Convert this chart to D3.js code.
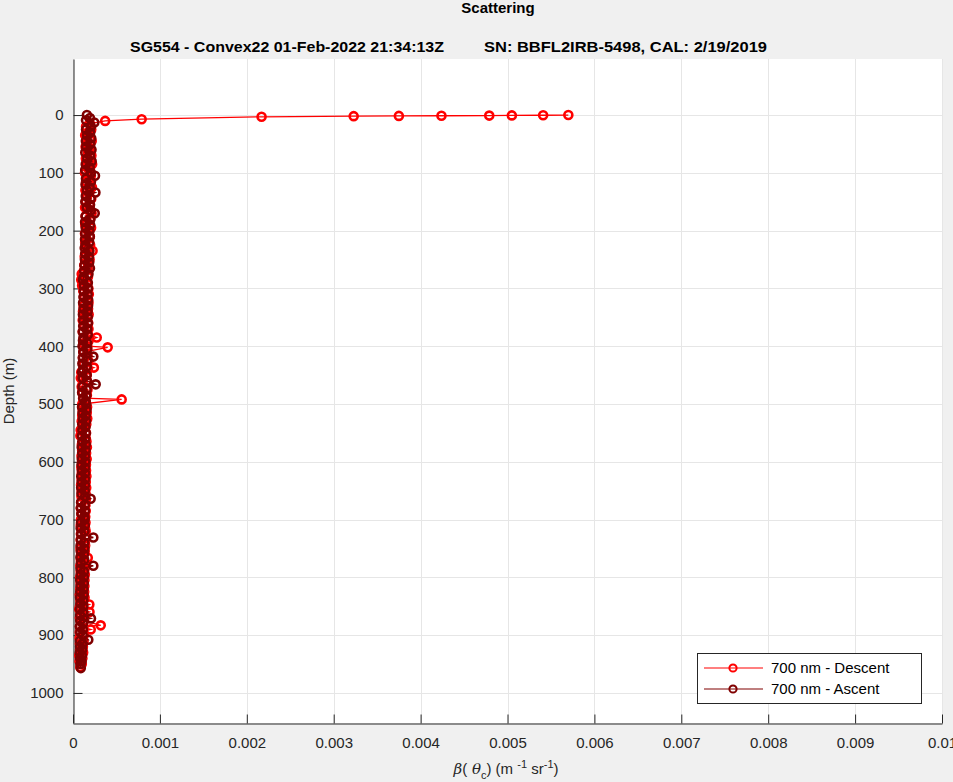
<!DOCTYPE html>
<html>
<head>
<meta charset="utf-8">
<script src="https://cdn.jsdelivr.net/npm/d3@7"></script>
<style>
  body { margin: 0; background: #f0f0f0; }
  svg { display: block; font-family: "Liberation Sans", Arial, Helvetica, sans-serif; }
</style>
</head>
<body>
<svg id="chart" width="953" height="782"></svg>
<script>
// ---------------- data ----------------
const titleText = "Scattering";
const subtitleLeft = "SG554 - Convex22 01-Feb-2022 21:34:13Z";
const subtitleRight = "SN: BBFL2IRB-5498, CAL: 2/19/2019";
const seriesNames = ["700 nm - Descent", "700 nm - Ascent"];

const xTicks = [0, 0.001, 0.002, 0.003, 0.004, 0.005, 0.006, 0.007, 0.008, 0.009, 0.01];
const xTickLabels = ["0", "0.001", "0.002", "0.003", "0.004", "0.005", "0.006", "0.007", "0.008", "0.009", "0.01"];
const yTicks = [0, 100, 200, 300, 400, 500, 600, 700, 800, 900, 1000];
const yTickLabels = ["0", "100", "200", "300", "400", "500", "600", "700", "800", "900", "1000"];

// Descent (m)
const descentDepth = [0, 0.3, 0.6, 0.9, 1.2, 1.5, 1.9, 3.0, 7.2, 10.1,
  15, 20, 25, 30, 35, 40, 45, 50, 55, 60,
  65, 70, 75, 80, 85, 90, 95, 100, 105, 110,
  115, 120, 125, 130, 135, 140, 145, 150, 155, 160,
  165, 170, 175, 180, 185, 190, 195, 200, 205, 210,
  215, 220, 225, 230, 235, 240, 245, 250, 255, 260,
  265, 270, 275, 280, 285, 290, 295, 300, 305, 310,
  315, 320, 325, 330, 335, 340, 345, 350, 355, 360,
  365, 370, 375, 380, 385, 390, 395, 400, 402, 410,
  415, 420, 425, 430, 437, 440, 445, 450, 455, 460,
  465, 470, 475, 480, 485, 490, 492, 500, 505, 510,
  515, 520, 525, 530, 535, 540, 545, 550, 555, 560,
  565, 570, 575, 580, 585, 590, 595, 600, 605, 610,
  615, 620, 625, 630, 635, 640, 645, 650, 655, 660,
  665, 670, 675, 680, 685, 690, 695, 700, 705, 710,
  715, 720, 725, 730, 735, 740, 745, 750, 755, 760,
  766, 770, 775, 780, 785, 790, 795, 800, 805, 810,
  815, 820, 825, 830, 835, 840, 847, 850, 855, 860,
  865, 870, 875, 883, 885, 890, 895, 900, 905, 910,
  915, 920, 925, 930, 935, 940, 945, 950, 955];
const descentBeta = [0.00570, 0.00541, 0.00505, 0.00479, 0.00424, 0.00375, 0.00323, 0.00217, 0.00079, 0.00037,
  0.000195, 0.000150, 0.000210, 0.000172, 0.000140, 0.000200, 0.000215, 0.000160, 0.000145, 0.000190,
  0.000171, 0.000212, 0.000148, 0.000185, 0.000220, 0.000155, 0.000195, 0.000138, 0.000205, 0.000173,
  0.000150, 0.000199, 0.000218, 0.000143, 0.000185, 0.000160, 0.000210, 0.000147, 0.000193, 0.000139,
  0.000182, 0.000214, 0.000145, 0.000196, 0.000159, 0.000141, 0.000208, 0.000171, 0.000138, 0.000194,
  0.000156, 0.000140, 0.000197, 0.000169, 0.000225, 0.000143, 0.000135, 0.000191, 0.000167, 0.000130,
  0.000168, 0.000125, 0.000100, 0.000172, 0.000095, 0.000158, 0.000105, 0.000177, 0.000119, 0.000182,
  0.000130, 0.000166, 0.000178, 0.000121, 0.000173, 0.000115, 0.000180, 0.000127, 0.000112, 0.000175,
  0.000129, 0.000178, 0.000113, 0.000172, 0.000273, 0.000180, 0.000118, 0.000165, 0.000399, 0.000120,
  0.000166, 0.000115, 0.000175, 0.000122, 0.000240, 0.000170, 0.000095, 0.000158, 0.000090, 0.000161,
  0.000113, 0.000100, 0.000167, 0.000109, 0.000160, 0.000116, 0.000560, 0.000107, 0.000162, 0.000111,
  0.000158, 0.000106, 0.000164, 0.000100, 0.000153, 0.000119, 0.000088, 0.000150, 0.000085, 0.000148,
  0.000155, 0.000102, 0.000160, 0.000105, 0.000151, 0.000098, 0.000157, 0.000104, 0.000149, 0.000096,
  0.000150, 0.000101, 0.000154, 0.000099, 0.000147, 0.000093, 0.000152, 0.000100, 0.000145, 0.000097,
  0.000148, 0.000095, 0.000143, 0.000090, 0.000146, 0.000098, 0.000141, 0.000092, 0.000144, 0.000089,
  0.000139, 0.000146, 0.000091, 0.000142, 0.000088, 0.000137, 0.000140, 0.000086, 0.000135, 0.000093,
  0.000170, 0.000090, 0.000138, 0.000084, 0.000134, 0.000089, 0.000136, 0.000082, 0.000132, 0.000087,
  0.000131, 0.000083, 0.000129, 0.000078, 0.000133, 0.000085, 0.000188, 0.000080, 0.000072, 0.000190,
  0.000124, 0.000079, 0.000127, 0.000319, 0.000081, 0.000204, 0.000078, 0.000125, 0.000076, 0.000122,
  0.000079, 0.000114, 0.000081, 0.000117, 0.000072, 0.000108, 0.000075, 0.000101, 0.000083];

// Ascent (m)
const ascentDepth = [0, 5, 9, 13, 20, 25, 30, 35, 40, 45,
  50, 55, 60, 65, 70, 75, 80, 85, 90, 95,
  100, 105, 110, 115, 120, 125, 130, 134, 140, 145,
  150, 155, 160, 165, 170, 175, 180, 185, 190, 195,
  200, 205, 210, 215, 220, 225, 230, 235, 240, 245,
  250, 255, 260, 265, 270, 275, 280, 285, 290, 295,
  300, 305, 310, 315, 320, 325, 330, 335, 340, 345,
  350, 355, 360, 365, 370, 375, 380, 385, 390, 395,
  400, 405, 410, 418, 420, 425, 430, 435, 440, 445,
  450, 455, 460, 466, 470, 475, 480, 485, 490, 495,
  500, 505, 510, 515, 520, 525, 530, 535, 540, 545,
  550, 555, 560, 565, 570, 575, 580, 585, 590, 595,
  600, 605, 610, 615, 620, 625, 630, 635, 640, 645,
  650, 655, 660, 664, 670, 675, 680, 685, 690, 695,
  700, 705, 710, 715, 720, 725, 731, 735, 740, 745,
  750, 755, 760, 765, 770, 775, 780, 785, 790, 795,
  800, 805, 810, 815, 820, 825, 830, 835, 840, 845,
  850, 855, 860, 865, 871, 875, 880, 885, 890, 895,
  900, 908, 910, 915, 920, 925, 930, 935, 940, 945,
  950, 957];
const ascentBeta = [0.000160, 0.000195, 0.000150, 0.000245, 0.000205, 0.000150, 0.000198, 0.000162, 0.000210, 0.000148,
  0.000200, 0.000152, 0.000213, 0.000141, 0.000196, 0.000165, 0.000215, 0.000146, 0.000192, 0.000140,
  0.000205, 0.000253, 0.000149, 0.000207, 0.000144, 0.000191, 0.000160, 0.000258, 0.000147, 0.000203,
  0.000142, 0.000196, 0.000158, 0.000204, 0.000250, 0.000145, 0.000201, 0.000139, 0.000197, 0.000146,
  0.000190, 0.000141, 0.000193, 0.000138, 0.000187, 0.000143, 0.000135, 0.000189, 0.000140, 0.000184,
  0.000137, 0.000186, 0.000132, 0.000195, 0.000129, 0.000178, 0.000124, 0.000115, 0.000171, 0.000127,
  0.000172, 0.000125, 0.000168, 0.000120, 0.000175, 0.000116, 0.000173, 0.000121, 0.000168, 0.000114,
  0.000170, 0.000119, 0.000172, 0.000117, 0.000164, 0.000112, 0.000169, 0.000120, 0.000115, 0.000163,
  0.000110, 0.000165, 0.000118, 0.000234, 0.000113, 0.000161, 0.000108, 0.000159, 0.000115, 0.000106,
  0.000157, 0.000111, 0.000160, 0.000261, 0.000109, 0.000156, 0.000105, 0.000153, 0.000118, 0.000147,
  0.000152, 0.000104, 0.000155, 0.000109, 0.000146, 0.000113, 0.000150, 0.000106, 0.000144, 0.000108,
  0.000148, 0.000103, 0.000142, 0.000107, 0.000147, 0.000100, 0.000145, 0.000105, 0.000140, 0.000101,
  0.000143, 0.000098, 0.000139, 0.000102, 0.000140, 0.000095, 0.000141, 0.000099, 0.000138, 0.000094,
  0.000136, 0.000097, 0.000140, 0.000203, 0.000093, 0.000135, 0.000091, 0.000137, 0.000096, 0.000131,
  0.000134, 0.000092, 0.000136, 0.000088, 0.000132, 0.000094, 0.000234, 0.000091, 0.000130, 0.000087,
  0.000131, 0.000089, 0.000128, 0.000085, 0.000129, 0.000090, 0.000234, 0.000086, 0.000126, 0.000088,
  0.000125, 0.000083, 0.000124, 0.000086, 0.000121, 0.000084, 0.000122, 0.000081, 0.000119, 0.000085,
  0.000120, 0.000080, 0.000118, 0.000082, 0.000207, 0.000083, 0.000115, 0.000079, 0.000114, 0.000084,
  0.000112, 0.000176, 0.000080, 0.000110, 0.000081, 0.000106, 0.000078, 0.000103, 0.000082, 0.000099,
  0.000086, 0.000090];

const seriesColors = ["#ff0000", "#800000"];

// ---------------- layout ----------------
const svg = d3.select("#chart");
const plot = { left: 73, right: 942, top: 59, bottom: 723 };
const x = d3.scaleLinear().domain([0, 0.01]).range([plot.left, plot.right]);
const y = d3.scaleLinear().domain([-97, 1052]).range([plot.top, plot.bottom]);
const axisColor = "#262626";

svg.append("rect").attr("width", 953).attr("height", 782).attr("fill", "#f0f0f0");
svg.append("rect")
  .attr("x", plot.left).attr("y", plot.top)
  .attr("width", plot.right - plot.left).attr("height", plot.bottom - plot.top)
  .attr("fill", "#ffffff");

// grid
const grid = svg.append("g").attr("stroke", "#e6e6e6").attr("stroke-width", 1);
grid.selectAll("line.vx").data(xTicks).join("line").attr("class", "vx")
  .attr("x1", d => Math.round(x(d)) + 0.5).attr("x2", d => Math.round(x(d)) + 0.5)
  .attr("y1", plot.top).attr("y2", plot.bottom);
grid.selectAll("line.hy").data(yTicks).join("line").attr("class", "hy")
  .attr("y1", d => Math.round(y(d)) + 0.5).attr("y2", d => Math.round(y(d)) + 0.5)
  .attr("x1", plot.left).attr("x2", plot.right);

// axes
const yAxis = d3.axisLeft(y).tickValues(yTicks).tickFormat((d, i) => yTickLabels[i])
  .tickSizeInner(-9).tickSizeOuter(0).tickPadding(10);
const xAxis = d3.axisBottom(x).tickValues(xTicks).tickFormat((d, i) => xTickLabels[i])
  .tickSizeInner(-9).tickSizeOuter(0).tickPadding(14);

const gy = svg.append("g").attr("transform", `translate(${plot.left + 0.5},0)`).call(yAxis);
const gx = svg.append("g").attr("transform", `translate(0,${plot.bottom + 0.5})`).call(xAxis);
[gx, gy].forEach(g => {
  g.selectAll("path.domain").attr("stroke", axisColor);
  g.selectAll(".tick line").attr("stroke", axisColor);
  g.selectAll(".tick text").attr("fill", axisColor)
    .style("font-size", "15px").style("font-family", "'Liberation Sans', Arial, sans-serif");
});

// series
function drawSeries(depths, betas, color) {
  const pts = depths.map((d, i) => [betas[i], d]);
  const line = d3.line().x(p => x(p[0])).y(p => y(p[1]));
  const g = svg.append("g");
  g.append("path").datum(pts).attr("d", line)
    .attr("fill", "none").attr("stroke", color).attr("stroke-width", 1.3);
  g.selectAll("circle").data(pts).join("circle")
    .attr("cx", p => x(p[0])).attr("cy", p => y(p[1])).attr("r", 4)
    .attr("fill", "none").attr("stroke", color).attr("stroke-width", 2.6);
}
drawSeries(descentDepth, descentBeta, seriesColors[0]);
drawSeries(ascentDepth, ascentBeta, seriesColors[1]);

// titles
svg.append("text").attr("x", 498).attr("y", 13).attr("text-anchor", "middle")
  .attr("font-weight", "bold").attr("font-size", 15).attr("fill", "#000")
  .text(titleText);
svg.append("text").attr("x", 130).attr("y", 52)
  .attr("font-weight", "bold").attr("font-size", 15).attr("fill", "#000")
  .attr("textLength", 314).attr("lengthAdjust", "spacingAndGlyphs")
  .text(subtitleLeft);
svg.append("text").attr("x", 484).attr("y", 52)
  .attr("font-weight", "bold").attr("font-size", 15).attr("fill", "#000")
  .attr("textLength", 283).attr("lengthAdjust", "spacingAndGlyphs")
  .text(subtitleRight);

// axis labels
svg.append("text")
  .attr("transform", `translate(14,${(plot.top + plot.bottom) / 2}) rotate(-90)`)
  .attr("text-anchor", "middle").attr("font-size", 15).attr("fill", axisColor)
  .text("Depth (m)");

const xl = svg.append("text").attr("x", 506).attr("y", 774).attr("text-anchor", "middle")
  .attr("font-size", 15).attr("fill", axisColor);
xl.append("tspan").attr("font-family", "'DejaVu Serif', serif").attr("font-style", "italic").text("β");
xl.append("tspan").text("(");
xl.append("tspan").attr("font-family", "'DejaVu Serif', serif").attr("font-style", "italic").text(" θ");
xl.append("tspan").attr("font-size", 11).attr("dy", 5).text("c");
xl.append("tspan").attr("dy", -5).text(") (m ");
xl.append("tspan").attr("font-size", 11).attr("dy", -6).text("-1");
xl.append("tspan").attr("dy", 6).text(" sr");
xl.append("tspan").attr("font-size", 11).attr("dy", -6).text("-1");
xl.append("tspan").attr("dy", 6).text(")");

// legend
const lg = svg.append("g");
lg.append("rect").attr("x", 697.5).attr("y", 653.5).attr("width", 224).attr("height", 50)
  .attr("fill", "#ffffff").attr("stroke", axisColor).attr("stroke-width", 1);
seriesNames.forEach((name, i) => {
  const yy = 668 + i * 21;
  lg.append("line").attr("x1", 704).attr("x2", 763).attr("y1", yy).attr("y2", yy)
    .attr("stroke", seriesColors[i]).attr("stroke-width", 1.2);
  lg.append("circle").attr("cx", 733).attr("cy", yy).attr("r", 3.6)
    .attr("fill", "none").attr("stroke", seriesColors[i]).attr("stroke-width", 2);
  lg.append("text").attr("x", 771).attr("y", yy + 5).attr("font-size", 15).attr("fill", "#000")
    .text(name);
});
</script>
</body>
</html>
